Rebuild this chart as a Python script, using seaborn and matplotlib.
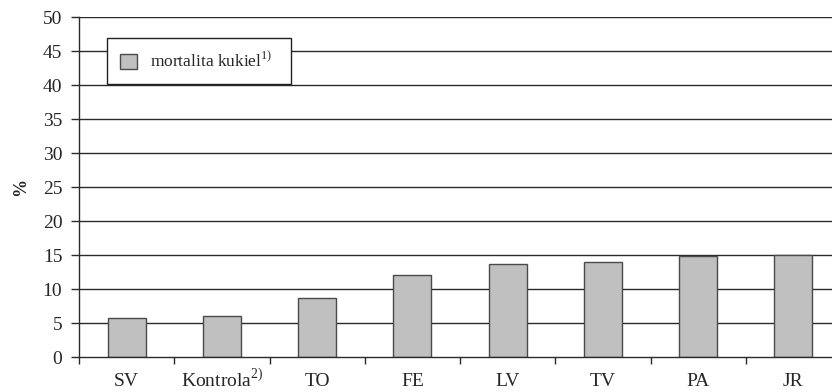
import matplotlib
matplotlib.use("Agg")
import matplotlib.pyplot as plt
from matplotlib.patches import Patch
from matplotlib.ticker import FixedLocator
import seaborn as sns
import pandas as pd

categories = ["SV", "Kontrola$^{\\mathregular{2)}}$", "TO", "FE", "LV", "TV", "PA", "JR"]
mortality = [5.8, 6.1, 8.7, 12.1, 13.7, 14.0, 14.8, 15.0]
legend_label = "mortalita kukiel$^{\\mathregular{1)}}$"

df = pd.DataFrame({"kategorie": categories, "mortalita": mortality})

sns.set_theme(style="white")
plt.rcParams["font.family"] = ["Liberation Serif", "DejaVu Serif"]
plt.rcParams["mathtext.fontset"] = "custom"
plt.rcParams["mathtext.rm"] = "Liberation Serif"

fig = plt.figure(figsize=(8.32, 3.92), dpi=100)
ax = fig.add_axes([79 / 832, 35 / 392, 762 / 832, 340 / 392])

line_col = "#2a2a2a"
for v in range(5, 51, 5):
    ax.axhline(v, color=line_col, lw=1.0, zorder=0)

sns.barplot(data=df, x="kategorie", y="mortalita", color="#c0c0c0",
            edgecolor="#4a4a4a", linewidth=1.0, width=0.4, saturation=1,
            ax=ax, zorder=2)

ax.set_xlim(-0.5, len(categories) - 0.5)
ax.set_ylim(0, 50)
ax.set_yticks(range(0, 51, 5))
ax.tick_params(axis="y", labelsize=14, length=6, width=1, color=line_col,
               pad=6, left=True, direction="out")
ax.tick_params(axis="x", which="major", labelsize=14, length=0, pad=21)
for lbl in ax.get_xticklabels():
    lbl.set_verticalalignment("baseline")
ax.xaxis.set_minor_locator(FixedLocator([i - 0.5 for i in range(len(categories) + 1)]))
ax.tick_params(axis="x", which="minor", length=5, width=1, color=line_col,
               bottom=True, direction="out")

for side in ["top", "right"]:
    ax.spines[side].set_visible(False)
for side in ["left", "bottom"]:
    ax.spines[side].set_color(line_col)
    ax.spines[side].set_linewidth(1.0)

ax.set_xlabel("")
ax.set_ylabel("%", fontsize=13, fontweight="bold", labelpad=10)

handle = Patch(facecolor="#c0c0c0", edgecolor="#4a4a4a", linewidth=1.0)
leg = ax.legend([handle], [legend_label], loc="upper left",
                bbox_to_anchor=(28 / 762, (357 - 38) / 340, 184 / 762, 0.0),
                mode="expand", borderaxespad=0, fontsize=12.5,
                handlelength=1.0, handleheight=1.0, handletextpad=0.75,
                borderpad=0.75, fancybox=False, framealpha=1,
                edgecolor="#222222")
leg.get_frame().set_linewidth(1.0)
leg.set_zorder(5)

fig.savefig("out.png", dpi=100)
